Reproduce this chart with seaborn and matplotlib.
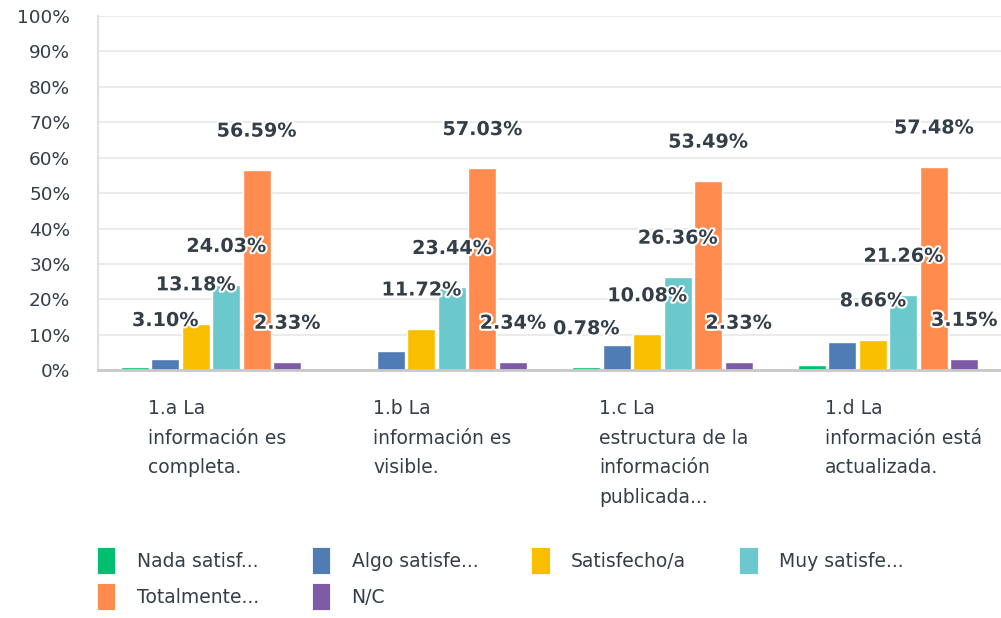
import pandas as pd
import matplotlib.pyplot as plt
import matplotlib.patheffects as pe
from matplotlib.patches import Patch
import seaborn as sns

# Survey questions (x categories) and answer options (hue)
preguntas = [
    "1.a La\ninformación es\ncompleta.",
    "1.b La\ninformación es\nvisible.",
    "1.c La\nestructura de la\ninformación\npublicada...",
    "1.d La\ninformación está\nactualizada.",
]
respuestas = ["Nada satisf...", "Algo satisfe...", "Satisfecho/a",
              "Muy satisfe...", "Totalmente...", "N/C"]

# percentage per answer option, one value per question
nada = [0.78, 0.00, 0.78, 1.57]
algo = [3.10, 5.47, 6.98, 7.87]
satisfecho = [13.18, 11.72, 10.08, 8.66]
muy = [24.03, 23.44, 26.36, 21.26]
totalmente = [56.59, 57.03, 53.49, 57.48]
nc = [2.33, 2.34, 2.33, 3.15]

# which value labels the original chart actually shows
mostrar = {
    "Nada satisf...": [False, False, True, False],
    "Algo satisfe...": [True, False, False, False],
    "Satisfecho/a": [True, True, True, True],
    "Muy satisfe...": [True, True, True, True],
    "Totalmente...": [True, True, True, True],
    "N/C": [True, True, True, True],
}

colores = ["#00BF6F", "#507CB6", "#F9BE00", "#6BC8CD", "#FF8B4F", "#7D5BA6"]
TEXT = "#333E48"

series = [nada, algo, satisfecho, muy, totalmente, nc]
rows = []
for resp, vals in zip(respuestas, series):
    for preg, v in zip(preguntas, vals):
        rows.append({"Pregunta": preg, "Respuesta": resp, "Porcentaje": v})
df = pd.DataFrame(rows)

sns.set_style("white")
plt.rcParams["font.family"] = ["DejaVu Sans"]

fig = plt.figure(figsize=(10.01, 6.18), dpi=100)
ax = fig.add_axes([0.098, 0.401, 0.902, 0.573])

sns.barplot(data=df, x="Pregunta", y="Porcentaje", hue="Respuesta",
            hue_order=respuestas, palette=colores, width=0.81, gap=0.08,
            saturation=1, legend=False, ax=ax)

for cont, resp in zip(ax.containers, respuestas):
    vals = [b.get_height() for b in cont]
    labels = [f"{v:.2f}%" if show else "" for v, show in zip(vals, mostrar[resp])]
    ax.bar_label(cont, labels=labels, padding=21, fontsize=13.8,
                 fontweight="bold", color=TEXT, clip_on=False,
                 path_effects=[pe.withStroke(linewidth=3, foreground="white")])

ax.set_ylim(0, 100)
ax.set_xlim(-0.5, len(preguntas) - 0.5)
ax.set_yticks(range(0, 101, 10))
ax.set_yticklabels([f"{t}%" for t in range(0, 101, 10)])
ax.tick_params(axis="y", length=0, pad=20, labelsize=13.3, labelcolor=TEXT)
ax.set_xticks([])
ax.set_xlabel("")
ax.set_ylabel("")
ax.grid(axis="y", color="#EBEBEB", linewidth=1.5)
ax.set_axisbelow(True)
for side in ["top", "right"]:
    ax.spines[side].set_visible(False)
ax.spines["left"].set_color("#E0E0E0")
ax.spines["left"].set_linewidth(1.5)
ax.spines["bottom"].set_color("#C8C8C8")
ax.spines["bottom"].set_linewidth(2)

trans = ax.get_xaxis_transform()
for i, preg in enumerate(preguntas):
    ax.text(i - 0.28, -0.082, preg, transform=trans, ha="left", va="top",
            fontsize=13.5, color=TEXT, linespacing=1.7)

# legend filled row by row: matplotlib fills columns, so reorder
orden = [0, 4, 1, 5, 2, 3]
handles = [Patch(facecolor=colores[k], edgecolor=colores[k], linewidth=3,
                 joinstyle="round") for k in orden]
leg = fig.legend(handles, [respuestas[k] for k in orden], loc="upper left",
                 bbox_to_anchor=(0.1, 0.11), ncol=4, frameon=False,
                 fontsize=13.5, handlelength=0.7, handleheight=1.45,
                 handletextpad=1.25, columnspacing=3.0, labelspacing=0.72,
                 borderpad=0, borderaxespad=0)
for t in leg.get_texts():
    t.set_color(TEXT)

plt.savefig("out.png", dpi=100)
